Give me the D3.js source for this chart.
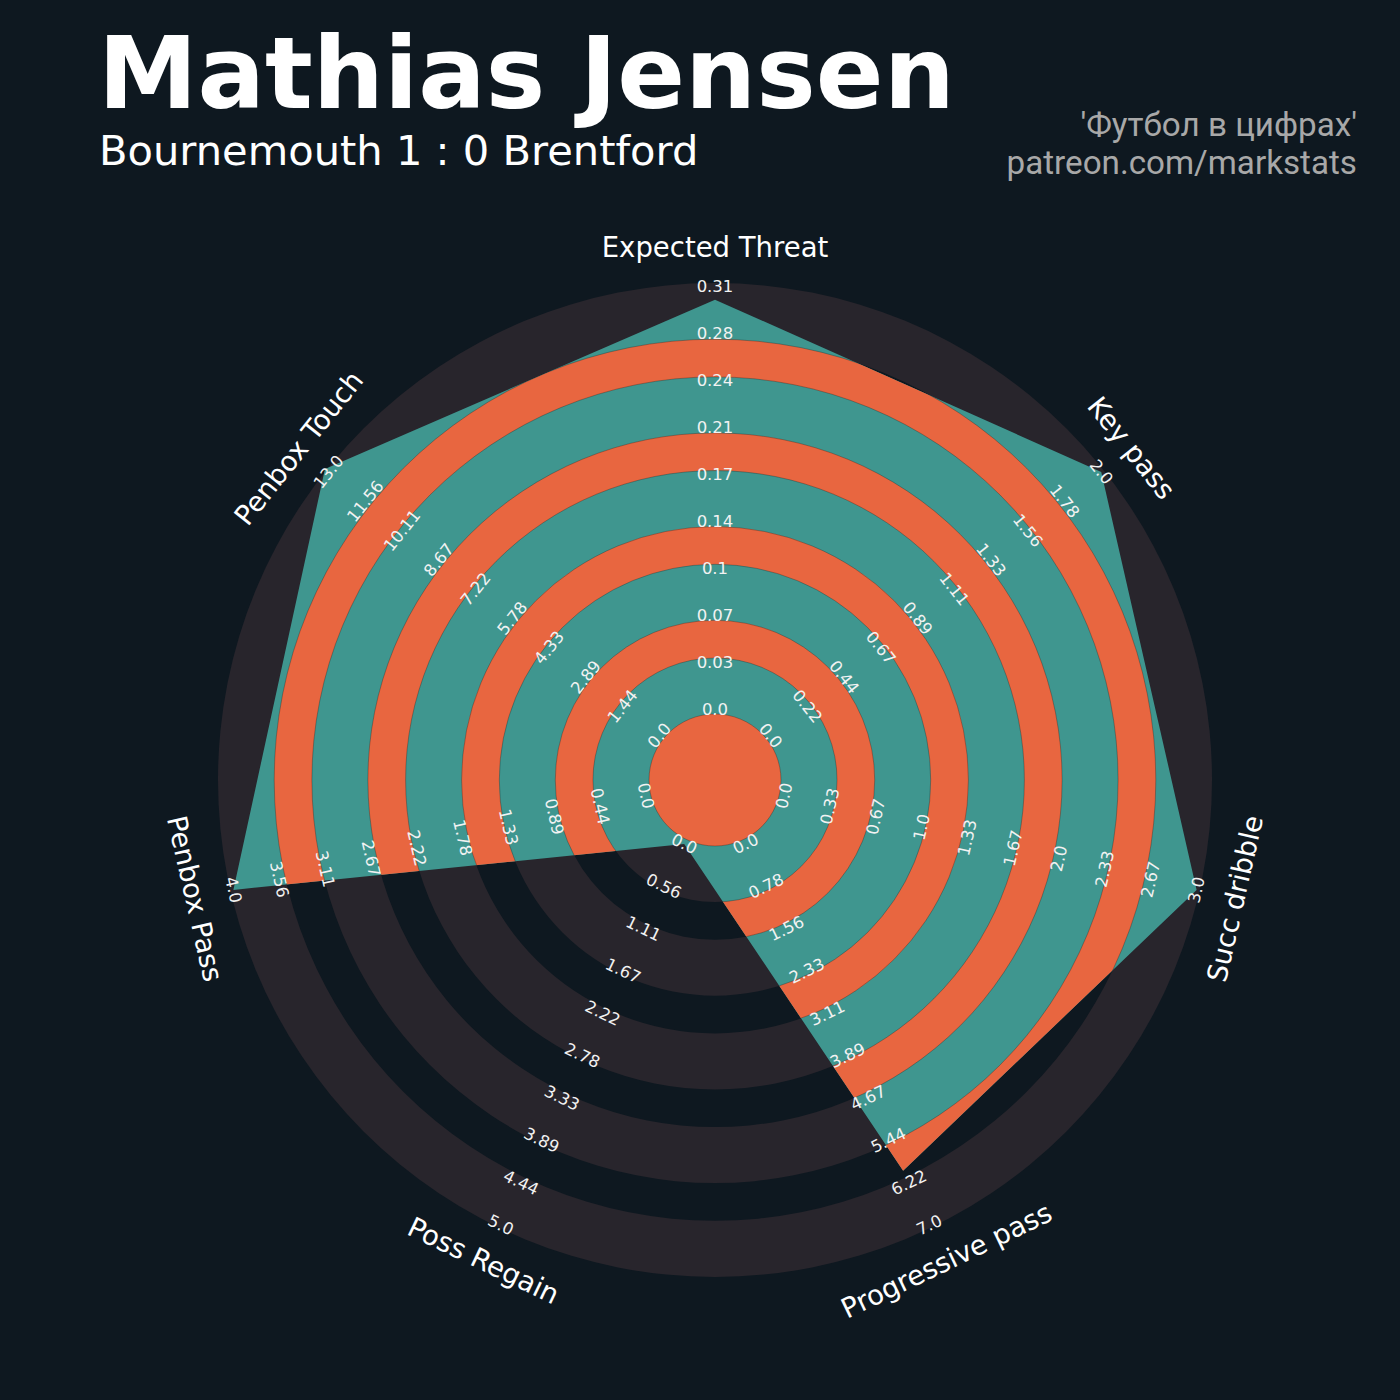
<!DOCTYPE html>
<html>
<head>
<meta charset="utf-8">
<script src="https://cdn.jsdelivr.net/npm/d3@7"></script>
<style>
  body { margin: 0; background: #0e1820; }
</style>
</head>
<body>
<div id="chart"></div>
<script>
// radar data
const params = ["Expected Threat", "Key pass", "Succ dribble", "Progressive pass", "Poss Regain", "Penbox Pass", "Penbox Touch"];
const minRange = [0, 0, 0, 0, 0, 0, 0];
const maxRange = [0.31, 2, 3, 7, 5, 4, 13];
const values = [0.30, 2.0, 3.0, 6.0, 0, 4.0, 13.15];
const titleText = "Mathias Jensen";
const subtitleText = "Bournemouth 1 : 0 Brentford";
const creditLines = ["'Футбол в цифрах'", "patreon.com/markstats"];
const numLabels = 10;

const width = 1400, height = 1400;
const cx = 715, cy = 780;
const outerR = 497;          // outer dark disk
const centerR = 66;          // center circle
const ringGap = 56, ringW = 37.7, numRings = 4;

const bg = "#0e1820", ringDark = "#28252c", teal = "#3f968f", orange = "#e86640";

const svg = d3.select("#chart").append("svg")
    .attr("width", width)
    .attr("height", height);

svg.append("rect").attr("width", width).attr("height", height).attr("fill", bg);

// radius scale on normalised values
const r = d3.scaleLinear().domain([0, 1]).range([71, 494]);

const n = params.length;
const angleDeg = i => 90 - i * 360 / n;
const pt = (i, rad) => {
  const a = angleDeg(i) * Math.PI / 180;
  return [cx + rad * Math.cos(a), cy - rad * Math.sin(a)];
};
// text rotation so labels run along the circle
const textRot = i => {
  let t = angleDeg(i);
  while (t <= -180) t += 360;
  while (t > 180) t -= 360;
  const rot = (t >= 0) ? t - 90 : t + 90;
  return -rot;
};

const fmt = v => {
  let s = String(Math.round(v * 100) / 100);
  if (s.indexOf(".") < 0) s += ".0";
  return s;
};

const g = svg.append("g").attr("transform", "translate(" + cx + "," + cy + ")");

// ring radii
const rings = d3.range(numRings).map(k => {
  const inner = centerR + ringGap + k * (ringGap + ringW);
  return [inner, inner + ringW];
});
const arc = d3.arc().startAngle(0).endAngle(2 * Math.PI);

// background disk + gaps
g.append("circle").attr("r", outerR).attr("fill", ringDark);
rings.forEach(d => {
  g.append("path").attr("d", arc({innerRadius: d[0], outerRadius: d[1]})).attr("fill", bg);
});
g.append("circle").attr("r", centerR).attr("fill", bg);

// polygon
const norm = values.map((v, i) => (v - minRange[i]) / (maxRange[i] - minRange[i]));
const polyPts = norm.map((v, i) => {
  const p = pt(i, r(v));
  return [p[0] - cx, p[1] - cy];
});
const line = d3.line().curve(d3.curveLinearClosed);

svg.append("defs").append("clipPath").attr("id", "polyclip")
  .append("path").attr("d", line(polyPts));

g.append("path").attr("d", line(polyPts)).attr("fill", teal);

const inside = g.append("g").attr("clip-path", "url(#polyclip)");
rings.forEach(d => {
  inside.append("path").attr("d", arc({innerRadius: d[0], outerRadius: d[1]}))
    .attr("fill", orange)
    .attr("stroke", "rgba(20,20,20,0.35)")
    .attr("stroke-width", 0.8);
});
inside.append("circle").attr("r", centerR).attr("fill", orange)
  .attr("stroke", "rgba(20,20,20,0.35)").attr("stroke-width", 0.8);

// range labels
params.forEach((p, i) => {
  const ticks = d3.range(numLabels).map(k => minRange[i] + k * (maxRange[i] - minRange[i]) / (numLabels - 1));
  ticks.forEach((t, k) => {
    const pos = pt(i, r(k / (numLabels - 1)));
    svg.append("text")
      .attr("transform", "translate(" + pos[0] + "," + pos[1] + ") rotate(" + textRot(i) + ")")
      .attr("text-anchor", "middle")
      .attr("dominant-baseline", "central")
      .attr("font-family", "DejaVu Sans")
      .attr("font-size", 16.5)
      .attr("fill", "#f2f2f2")
      .text(fmt(t));
  });
});

// param labels
params.forEach((p, i) => {
  const pos = pt(i, 533);
  svg.append("text")
    .attr("transform", "translate(" + pos[0] + "," + pos[1] + ") rotate(" + textRot(i) + ")")
    .attr("text-anchor", "middle")
    .attr("dominant-baseline", "central")
    .attr("font-family", "DejaVu Sans")
    .attr("font-size", 27.5)
    .attr("fill", "#ffffff")
    .text(p);
});

// titles
svg.append("text").attr("x", 98).attr("y", 108)
  .attr("font-family", "DejaVu Sans").attr("font-weight", "bold")
  .attr("font-size", 100).attr("fill", "#ffffff").text(titleText);
svg.append("text").attr("x", 99).attr("y", 165)
  .attr("font-family", "DejaVu Sans")
  .attr("font-size", 41.6).attr("fill", "#ffffff").text(subtitleText);
creditLines.forEach((t, k) => {
  svg.append("text").attr("x", 1357).attr("y", 136 + k * 38)
    .attr("text-anchor", "end")
    .attr("font-family", "Roboto")
    .attr("font-size", 33.2).attr("fill", "#a8a8a8").text(t);
});
</script>
</body>
</html>
